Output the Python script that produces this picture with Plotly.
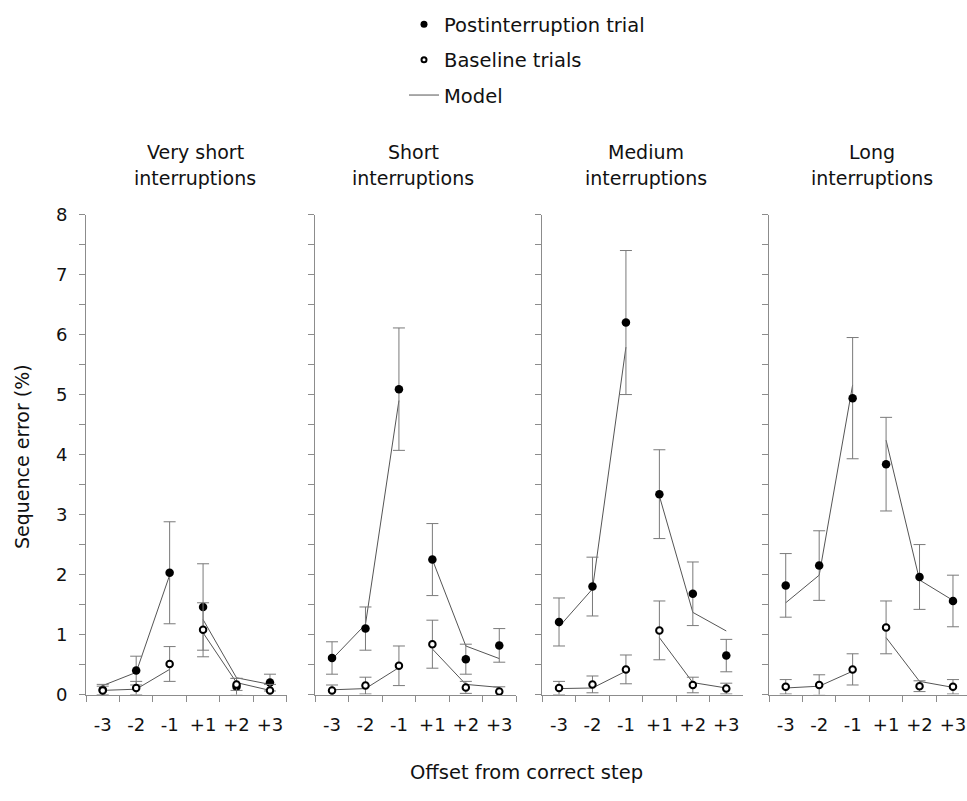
import plotly.graph_objects as go

# Offsets from the correct step (x categories)
offsets = ["-3", "-2", "-1", "+1", "+2", "+3"]

# Interruption-length conditions, one panel each
panel_titles = [("Very short", "interruptions"),
                ("Short", "interruptions"),
                ("Medium", "interruptions"),
                ("Long", "interruptions")]

# Postinterruption trial: mean sequence error (%) and error-bar half-width
post_very_short = [0.08, 0.40, 2.03, 1.46, 0.13, 0.20]
post_short = [0.61, 1.10, 5.09, 2.25, 0.59, 0.82]
post_medium = [1.21, 1.80, 6.20, 3.34, 1.68, 0.65]
post_long = [1.82, 2.15, 4.94, 3.84, 1.96, 1.56]

post_err_very_short = [0.09, 0.24, 0.85, 0.72, 0.14, 0.14]
post_err_short = [0.27, 0.36, 1.02, 0.60, 0.25, 0.28]
post_err_medium = [0.40, 0.49, 1.20, 0.74, 0.53, 0.27]
post_err_long = [0.53, 0.58, 1.01, 0.78, 0.54, 0.43]

# Baseline trials: mean sequence error (%) and error-bar half-width
base_very_short = [0.07, 0.11, 0.51, 1.08, 0.17, 0.07]
base_short = [0.07, 0.15, 0.48, 0.84, 0.12, 0.05]
base_medium = [0.11, 0.17, 0.42, 1.07, 0.16, 0.10]
base_long = [0.13, 0.16, 0.42, 1.12, 0.14, 0.13]

base_err_very_short = [0.07, 0.11, 0.29, 0.45, 0.10, 0.10]
base_err_short = [0.09, 0.14, 0.33, 0.40, 0.10, 0.08]
base_err_medium = [0.11, 0.14, 0.24, 0.49, 0.13, 0.09]
base_err_long = [0.12, 0.17, 0.26, 0.44, 0.09, 0.12]

# Model predictions
model_post_very_short = [0.15, 0.37, 1.99, 1.25, 0.28, 0.17]
model_post_short = [0.59, 1.17, 4.90, 2.25, 0.81, 0.60]
model_post_medium = [1.13, 1.76, 5.79, 3.31, 1.37, 1.06]
model_post_long = [1.53, 1.99, 5.16, 4.24, 1.91, 1.57]

model_base_very_short = [0.07, 0.09, 0.42, 1.03, 0.20, 0.07]
model_base_short = [0.08, 0.10, 0.45, 0.76, 0.17, 0.12]
model_base_medium = [0.10, 0.11, 0.39, 0.95, 0.20, 0.11]
model_base_long = [0.11, 0.14, 0.39, 0.95, 0.22, 0.12]

panels = [
    (post_very_short, post_err_very_short, base_very_short, base_err_very_short,
     model_post_very_short, model_base_very_short),
    (post_short, post_err_short, base_short, base_err_short,
     model_post_short, model_base_short),
    (post_medium, post_err_medium, base_medium, base_err_medium,
     model_post_medium, model_base_medium),
    (post_long, post_err_long, base_long, base_err_long,
     model_post_long, model_base_long),
]

W, H = 967, 801
FONT = "DejaVu Sans"
TEXT = "#111111"
AXIS_GREY = "#8c8c8c"
ERR_GREY = "#7a7a7a"
MODEL_COL = "#555555"

# panel x extents in px and the shared vertical extent
panel_px = [(86.0, 286.7), (315.3, 516.0), (542.3, 742.7), (769.0, 969.4)]
y_top_px, y_bot_px = 209.0, 702.0

xpos = list(range(1, len(offsets) + 1))


def split_segments(vals):
    # the model is drawn separately before and after the interruption point
    return vals[:3] + [None] + vals[3:]


x_seg = xpos[:3] + [None] + xpos[3:]

fig = go.Figure()

for i, (post, perr, base, berr, mpost, mbase) in enumerate(panels):
    xa = "x" if i == 0 else f"x{i + 1}"
    ya = "y" if i == 0 else f"y{i + 1}"
    for mvals in (mpost, mbase):
        fig.add_trace(go.Scatter(
            x=x_seg, y=split_segments(mvals), mode="lines",
            line=dict(color=MODEL_COL, width=1), connectgaps=False,
            showlegend=False, hoverinfo="skip", xaxis=xa, yaxis=ya,
            cliponaxis=False))
    fig.add_trace(go.Scatter(
        x=xpos, y=post, mode="markers",
        marker=dict(symbol="circle", size=8.5, color="black"),
        error_y=dict(type="data", array=perr, color=ERR_GREY, thickness=1, width=6),
        showlegend=False, xaxis=xa, yaxis=ya, cliponaxis=False))
    fig.add_trace(go.Scatter(
        x=xpos, y=base, mode="markers",
        marker=dict(symbol="circle", size=6.5, color="white",
                    line=dict(color="black", width=2)),
        error_y=dict(type="data", array=berr, color=ERR_GREY, thickness=1, width=6),
        showlegend=False, xaxis=xa, yaxis=ya, cliponaxis=False))

# legend-only entries
fig.add_trace(go.Scatter(x=[None], y=[None], mode="markers", name="Postinterruption trial",
                         marker=dict(symbol="circle", size=7, color="black"),
                         legendgroup="a"))
fig.add_trace(go.Scatter(x=[None], y=[None], mode="markers", name="Baseline trials",
                         marker=dict(symbol="circle", size=5, color="white",
                                     line=dict(color="black", width=2)),
                         legendgroup="b"))
fig.add_trace(go.Scatter(x=[None], y=[None], mode="lines", name="Model",
                         line=dict(color=MODEL_COL, width=1), legendgroup="c"))

layout = dict(
    width=W, height=H, autosize=False,
    margin=dict(l=0, r=0, t=0, b=0),
    paper_bgcolor="white", plot_bgcolor="white",
    font=dict(family=FONT, size=17, color=TEXT),
    showlegend=True,
    legend=dict(x=404 / W, y=1.0 + 6 / H, xanchor="left", yanchor="top",
                bgcolor="rgba(0,0,0,0)", tracegroupgap=7,
                font=dict(family=FONT, size=19.5, color=TEXT)),
)

cat_px = (panel_px[0][1] - panel_px[0][0]) / 6.0
for i, (x0, x1) in enumerate(panel_px):
    sfx = "" if i == 0 else str(i + 1)
    x1c = min(x1, W)
    xr_end = 0.5 + (x1c - x0) / cat_px
    layout[f"xaxis{sfx}"] = dict(
        domain=[x0 / W, x1c / W], range=[0.5, xr_end],
        anchor=f"y{sfx}", showgrid=False, zeroline=False,
        showline=True, linecolor=AXIS_GREY, linewidth=1,
        tickmode="array", tickvals=xpos, ticktext=offsets, ticks="",
        ticklabelstandoff=14,
        tickfont=dict(family=FONT, size=18, color=TEXT),
        minor=dict(tickmode="array", tickvals=[v + 0.5 for v in [0] + xpos],
                   ticks="outside", ticklen=6, tickcolor=AXIS_GREY, tickwidth=1,
                   showgrid=False),
    )
    layout[f"yaxis{sfx}"] = dict(
        domain=[(H - y_bot_px) / H, (H - y_top_px) / H], range=[0, 8],
        anchor=f"x{sfx}", showgrid=False, zeroline=False,
        showline=True, linecolor=AXIS_GREY, linewidth=1,
        tickmode="linear", tick0=0, dtick=1, ticks="outside", ticklen=6,
        tickcolor=AXIS_GREY, tickwidth=1,
        showticklabels=(i == 0), ticklabelstandoff=8,
        tickfont=dict(family=FONT, size=18, color=TEXT),
        minor=dict(dtick=0.5, ticks="outside", ticklen=6, tickcolor=AXIS_GREY,
                   tickwidth=1, showgrid=False),
    )

fig.update_layout(**layout)

annotations = []
title_centers = [195, 413, 646, 872]
for (l1, l2), cx in zip(panel_titles, title_centers):
    for txt, ypx in ((l1, 145), (l2, 172)):
        annotations.append(dict(text=txt, x=cx / W, y=(H - ypx) / H, xref="paper", yref="paper",
                                xanchor="center", yanchor="middle", showarrow=False,
                                font=dict(family=FONT, size=19, color=TEXT)))
annotations.append(dict(text="Sequence error (%)", x=22 / W, y=(H - 458) / H,
                        xref="paper", yref="paper", textangle=-90,
                        xanchor="center", yanchor="middle", showarrow=False,
                        font=dict(family=FONT, size=19, color=TEXT)))
annotations.append(dict(text="Offset from correct step", x=526 / W, y=(H - 782) / H,
                        xref="paper", yref="paper", xanchor="center", yanchor="middle",
                        showarrow=False, font=dict(family=FONT, size=19.5, color=TEXT)))
fig.update_layout(annotations=annotations)

fig.write_html("out.html")
